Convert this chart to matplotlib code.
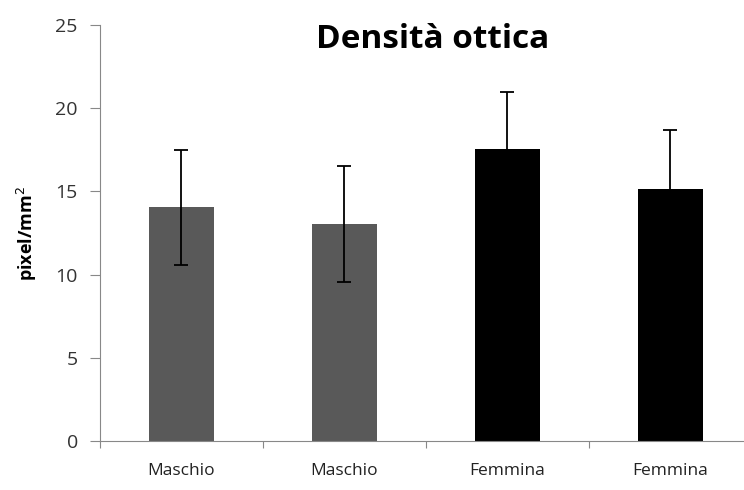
import matplotlib.pyplot as plt

# Dati
categorie = ["Maschio", "Maschio", "Femmina", "Femmina"]
valori = [14.05, 13.05, 17.55, 15.15]
errori = [3.45, 3.5, 3.42, 3.55]
colori = ["#595959", "#595959", "#000000", "#000000"]

plt.rcParams["font.family"] = ["Open Sans", "DejaVu Sans"]

fig = plt.figure(figsize=(7.44, 4.9), dpi=100)
ax = fig.add_axes([0.1344, 0.1, 0.876, 0.849])

x = range(len(categorie))
ax.bar(x, valori, width=0.4, color=colori, zorder=2)
ax.errorbar(x, valori, yerr=errori, fmt="none", ecolor="black",
            elinewidth=1.3, capsize=5, capthick=1.3, zorder=3)

ax.set_xlim(-0.5, 3.5)
ax.set_ylim(0, 25)
ax.set_yticks([0, 5, 10, 15, 20, 25])

# tick principali ai confini delle categorie, etichette al centro
ax.set_xticks([-0.5, 0.5, 1.5, 2.5, 3.5])
ax.set_xticklabels([])
ax.set_xticks(list(x), minor=True)
ax.set_xticklabels(categorie, minor=True)
ax.tick_params(axis="x", which="major", length=5, color="#888888")
ax.tick_params(axis="x", which="minor", length=0, pad=16, labelsize=12.5, labelcolor="#222222")
ax.tick_params(axis="y", length=7, color="#888888", labelsize=14, labelcolor="#333333", pad=9)

for s in ["top", "right"]:
    ax.spines[s].set_visible(False)
for s in ["left", "bottom"]:
    ax.spines[s].set_color("#888888")

ax.set_ylabel("pixel/mm$^2$", fontsize=13, fontweight="bold", labelpad=12)
fig.text(0.582, 0.92, "Densità ottica", fontsize=24, fontweight="bold",
         ha="center", va="center")

fig.savefig("out.png", dpi=100)
